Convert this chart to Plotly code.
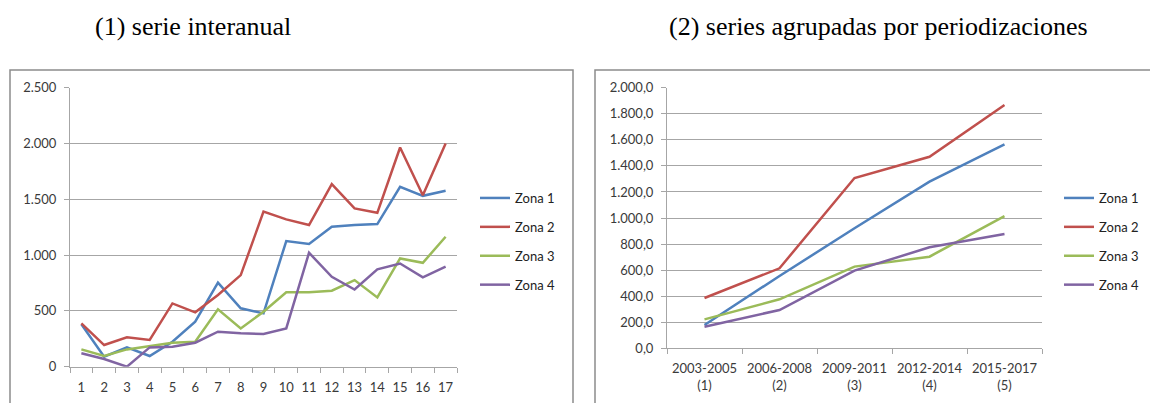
import plotly.graph_objects as go

W, H = 1150, 403

# ---- data: (1) serie interanual ----
years_idx = [str(i) for i in range(1, 18)]
z1_a = [380, 90, 173, 96, 224, 403, 753, 523, 478, 1126, 1099, 1254, 1269, 1278, 1612, 1531, 1576]
z2_a = [388, 194, 263, 239, 567, 487, 642, 821, 1389, 1320, 1269, 1636, 1418, 1379, 1964, 1537, 2000]
z3_a = [155, 96, 155, 185, 215, 224, 514, 343, 493, 666, 666, 681, 776, 621, 970, 931, 1164]
z4_a = [120, 69, 0, 173, 179, 215, 314, 299, 293, 343, 1021, 806, 692, 872, 925, 800, 896]

# ---- data: (2) series agrupadas por periodizaciones ----
periods = ["2003-2005<br>(1)", "2006-2008<br>(2)", "2009-2011<br>(3)", "2012-2014<br>(4)", "2015-2017<br>(5)"]
z1_b = [179, 555, 921, 1279, 1565]
z2_b = [386, 614, 1307, 1470, 1867]
z3_b = [222, 376, 627, 703, 1015]
z4_b = [166, 294, 596, 775, 877]

names = ["Zona 1", "Zona 2", "Zona 3", "Zona 4"]
colors = ["#4F81BD", "#C0504D", "#9BBB59", "#8064A2"]
titles = ["(1) serie interanual", "(2) series agrupadas por periodizaciones"]

left_ticks = [0, 500, 1000, 1500, 2000, 2500]
left_ticktext = ["0", "500", "1.000", "1.500", "2.000", "2.500"]
right_ticks = [0, 200, 400, 600, 800, 1000, 1200, 1400, 1600, 1800, 2000]
right_ticktext = ["0,0", "200,0", "400,0", "600,0", "800,0", "1.000,0", "1.200,0",
                  "1.400,0", "1.600,0", "1.800,0", "2.000,0"]

fig = go.Figure()
for i, (ys, n, c) in enumerate(zip([z1_a, z2_a, z3_a, z4_a], names, colors)):
    fig.add_trace(go.Scatter(x=years_idx, y=ys, name=n, mode="lines",
                             line=dict(color=c, width=2.5), xaxis="x", yaxis="y",
                             legend="legend", legendgroup="a" + str(i)))
for i, (ys, n, c) in enumerate(zip([z1_b, z2_b, z3_b, z4_b], names, colors)):
    fig.add_trace(go.Scatter(x=periods, y=ys, name=n, mode="lines",
                             line=dict(color=c, width=2.5), xaxis="x2", yaxis="y2",
                             legend="legend2", legendgroup="b" + str(i)))

def px_x(p):
    return p / W

def px_y(p):
    return 1 - p / H

tickfont = dict(family="Lato, 'Open Sans', sans-serif", size=13, color="#3a3a3a")
grid = "#a6a6a6"

fig.update_layout(
    width=W, height=H, margin=dict(l=0, r=0, t=0, b=0, autoexpand=False),
    paper_bgcolor="white", plot_bgcolor="white", showlegend=True,
    xaxis=dict(domain=[px_x(70), px_x(457)], type="category", tickson="boundaries",
               range=[-0.5, len(years_idx) - 0.5],
               ticks="outside", ticklen=5, tickcolor=grid, showline=True, linecolor=grid,
               showgrid=False, tickfont=tickfont, tickangle=0, anchor="y",
               automargin=False, ticklabelstandoff=9),
    yaxis=dict(domain=[px_y(366.7), px_y(87.7)], range=[0, 2500], tickvals=left_ticks,
               ticktext=left_ticktext, ticks="outside", ticklen=5, tickcolor=grid,
               showline=True, linecolor=grid, showgrid=True, gridcolor=grid, gridwidth=1,
               zeroline=False, tickfont=tickfont, anchor="x", automargin=False,
               ticklabelstandoff=5),
    xaxis2=dict(domain=[px_x(667), px_x(1042)], type="category", tickson="boundaries",
                range=[-0.5, len(periods) - 0.5],
                ticks="outside", ticklen=5, tickcolor=grid, showline=True, linecolor=grid,
                showgrid=False, tickfont=tickfont, tickangle=0, anchor="y2", automargin=False,
                ticklabelstandoff=8),
    yaxis2=dict(domain=[px_y(348.3), px_y(87.7)], range=[0, 2000], tickvals=right_ticks,
                ticktext=right_ticktext, ticks="outside", ticklen=5, tickcolor=grid,
                showline=True, linecolor=grid, showgrid=True, gridcolor=grid, gridwidth=1,
                zeroline=False, tickfont=tickfont, anchor="x2", automargin=False,
                ticklabelstandoff=5),
    legend=dict(x=px_x(475), y=px_y(183), xanchor="left", yanchor="top",
                font=dict(family="Lato, sans-serif", size=13, color="#222"),
                tracegroupgap=9, bgcolor="rgba(0,0,0,0)", traceorder="grouped"),
    legend2=dict(x=px_x(1059), y=px_y(183), xanchor="left", yanchor="top",
                 font=dict(family="Lato, sans-serif", size=13, color="#222"),
                 tracegroupgap=9, bgcolor="rgba(0,0,0,0)", traceorder="grouped"),
)

# chart frames
frame = dict(type="rect", xref="paper", yref="paper", line=dict(color="#8c8c8c", width=1.5),
             fillcolor="rgba(0,0,0,0)", layer="below")
fig.add_shape(x0=px_x(10), x1=px_x(573), y0=px_y(410), y1=px_y(70), **frame)
fig.add_shape(x0=px_x(595), x1=px_x(1152), y0=px_y(410), y1=px_y(70), **frame)

# titles
for t, cx in zip(titles, [193, 878]):
    fig.add_annotation(text=t, x=px_x(cx), y=px_y(27), xref="paper", yref="paper",
                       showarrow=False, xanchor="center", yanchor="middle",
                       font=dict(family="Liberation Serif, Times New Roman, serif",
                                 size=26, color="black"))

fig.write_html("out.html", config={"displayModeBar": False},
               post_script="document.body.style.margin='0';document.body.style.overflow='hidden';")
